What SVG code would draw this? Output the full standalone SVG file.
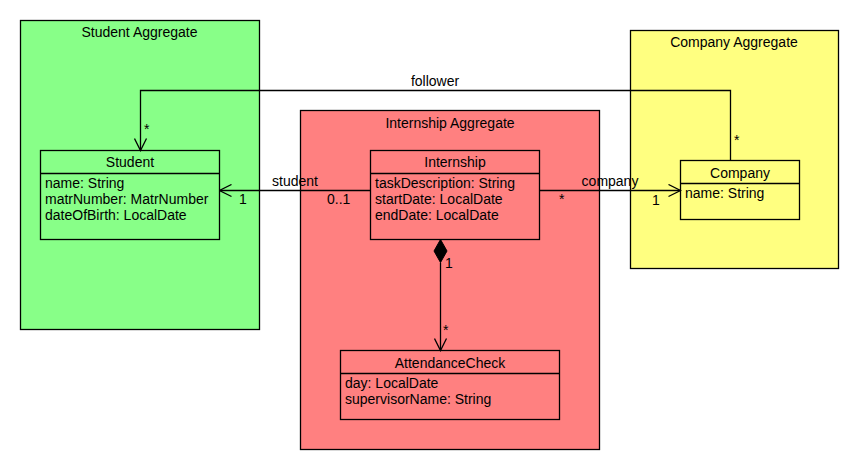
<svg xmlns="http://www.w3.org/2000/svg" width="860" height="470" viewBox="0 0 860 470">
<style>
text{font-family:"Liberation Sans",Arial,sans-serif;font-size:14px;fill:#000}
.c{text-anchor:middle}
.box{stroke:#000;stroke-width:1.3}
.g{fill:#88FF88}
.r{fill:#FF8080}
.y{fill:#FFFF80}
.ln{fill:none;stroke:#000;stroke-width:1.3}
</style>
<defs>
<marker id="open" markerWidth="14" markerHeight="14" viewBox="-13 -7 14 14" refX="0" refY="0" orient="auto" markerUnits="userSpaceOnUse">
<path d="M-12,-6 L0,0 L-12,6" fill="none" stroke="#000" stroke-width="1.3"/>
</marker>
</defs>
<g id="student-aggregate">
<rect class="box g" x="20.5" y="20.5" width="239" height="309"/>
<text class="c" x="139.5" y="37">Student Aggregate</text>
</g>
<g id="company-aggregate">
<rect class="box y" x="630.5" y="30.5" width="208" height="238"/>
<text class="c" x="734" y="47">Company Aggregate</text>
</g>
<g id="internship-aggregate">
<rect class="box r" x="300.5" y="110.5" width="299" height="339"/>
<text class="c" x="450" y="128">Internship Aggregate</text>
</g>
<g id="student">
<rect class="box g" x="40.5" y="150.5" width="179" height="89"/>
<line class="ln" x1="40.5" y1="173.5" x2="219.5" y2="173.5"/>
<text class="c" x="130" y="167">Student</text>
<text x="45" y="188">name: String</text>
<text x="45" y="204">matrNumber: MatrNumber</text>
<text x="45" y="220">dateOfBirth: LocalDate</text>
</g>
<g id="internship">
<rect class="box r" x="370.5" y="150.5" width="169" height="89"/>
<line class="ln" x1="370.5" y1="173.5" x2="539.5" y2="173.5"/>
<text class="c" x="455" y="167">Internship</text>
<text x="375" y="188">taskDescription: String</text>
<text x="375" y="204">startDate: LocalDate</text>
<text x="375" y="220">endDate: LocalDate</text>
</g>
<g id="company">
<rect class="box y" x="680.5" y="160.5" width="119" height="59"/>
<line class="ln" x1="680.5" y1="183.5" x2="799.5" y2="183.5"/>
<text class="c" x="740" y="177.5">Company</text>
<text x="685" y="198">name: String</text>
</g>
<g id="attendance-check">
<rect class="box r" x="340.5" y="350.5" width="219" height="69"/>
<line class="ln" x1="340.5" y1="373.5" x2="559.5" y2="373.5"/>
<text class="c" x="450" y="367.5">AttendanceCheck</text>
<text x="345" y="388">day: LocalDate</text>
<text x="345" y="404">supervisorName: String</text>
</g>
<g id="connectors">
<path class="ln" d="M730.5,160.5 V90.5 H140.5 V150.5" marker-end="url(#open)"/>
<text class="c" x="435" y="86">follower</text>
<text x="144" y="134">*</text>
<text x="734" y="145">*</text>
<path class="ln" d="M370.5,190.5 H219.5" marker-end="url(#open)"/>
<text class="c" x="295" y="186">student</text>
<text x="239" y="204">1</text>
<text x="327" y="204">0..1</text>
<path class="ln" d="M539.5,190.5 H680.5" marker-end="url(#open)"/>
<text class="c" x="610" y="186">company</text>
<text x="559" y="204">*</text>
<text x="652" y="205">1</text>
<path d="M440.5,239.5 L447,251 L440.5,262.5 L434,251 Z" fill="#000" stroke="#000" stroke-width="1"/>
<path class="ln" d="M440.5,262.5 V350.5" marker-end="url(#open)"/>
<text x="445" y="268">1</text>
<text x="443" y="335">*</text>
</g>
</svg>
